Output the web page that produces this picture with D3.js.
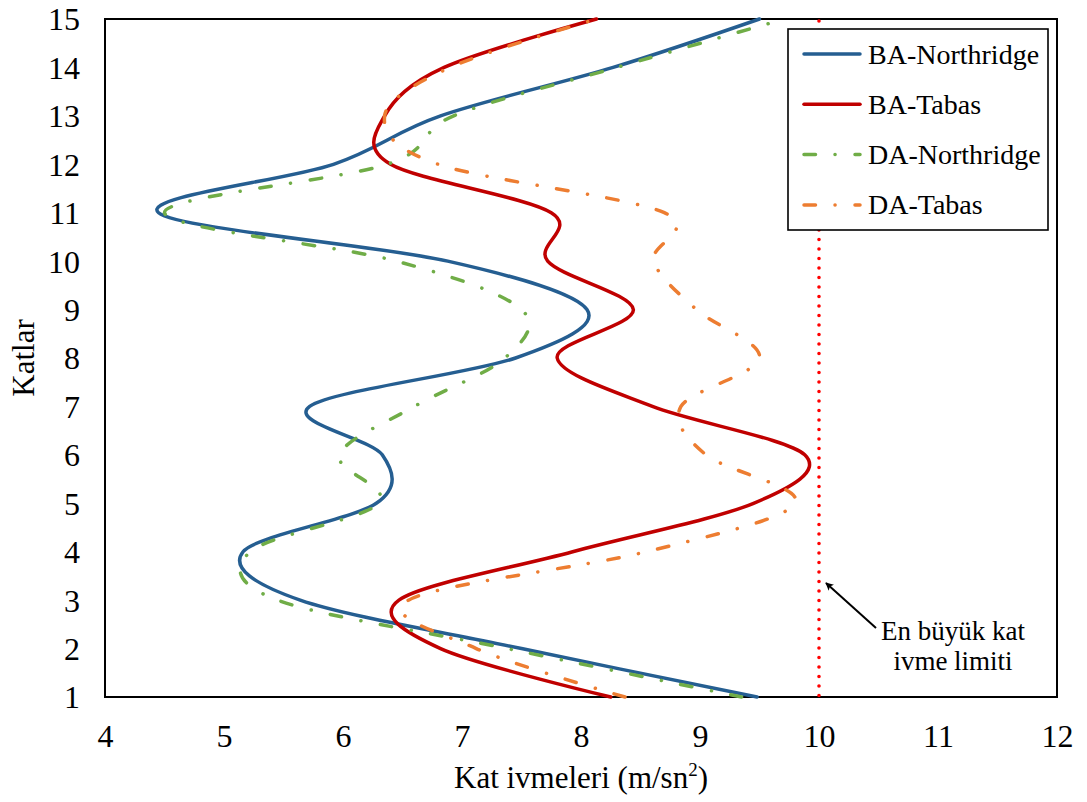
<!DOCTYPE html>
<html>
<head>
<meta charset="utf-8">
<script src="https://cdn.jsdelivr.net/npm/d3@7"></script>
<style>
  html, body { margin: 0; padding: 0; background: #fff; }
  svg { display: block; font-family: "Liberation Serif", "Times New Roman", serif; }
</style>
</head>
<body>
<svg id="chart" width="1087" height="802"></svg>
<script>
// ---- data ----
const floors = [1, 2, 3, 4, 5, 6, 7, 8, 9, 10, 11, 12, 13, 14, 15];
const baNorthridge = [9.48, 7.5, 5.64, 5.16, 6.28, 6.33, 5.72, 7.45, 8.05, 6.88, 4.45, 5.92, 6.82, 8.27, 9.5];
const baTabas      = [8.25, 6.82, 6.47, 7.93, 9.45, 9.88, 8.6, 7.8, 8.44, 7.72, 7.75, 6.4, 6.35, 6.85, 8.13];
const daNorthridge = [9.35, 7.38, 5.45, 5.22, 6.3, 5.97, 6.6, 7.36, 7.5, 6.45, 4.5, 6.37, 6.93, 8.3, 9.71];
const daTabas      = [8.37, 7.12, 6.55, 8.55, 9.8, 9.05, 8.84, 9.5, 8.97, 8.61, 8.7, 6.8, 6.35, 6.9, 8.13];
const seriesNames = ["BA-Northridge", "BA-Tabas", "DA-Northridge", "DA-Tabas"];
const xTicks = [4, 5, 6, 7, 8, 9, 10, 11, 12];
const yTicks = floors;
const limitValue = 10;
const annotationLines = ["En büyük kat", "ivme limiti"];
const xTitle = "Kat ivmeleri (m/sn";
const yTitle = "Katlar";

// ---- layout ----
const svg = d3.select("#chart");
const L = 105, R = 1057, T = 19, B = 697;
const x = d3.scaleLinear().domain([4, 12]).range([L, R]);
const y = d3.scaleLinear().domain([1, 15]).range([B, T]);

const dashDot = "11.5,19.5,0.1,19.9";
const styles = [
  { color: "#255e91", dash: null },
  { color: "#c00000", dash: null },
  { color: "#70ad47", dash: dashDot },
  { color: "#ed7d31", dash: dashDot }
];
const values = [baNorthridge, baTabas, daNorthridge, daTabas];

// frame
svg.append("rect").attr("x", L).attr("y", T).attr("width", R - L).attr("height", B - T)
  .attr("fill", "#fff").attr("stroke", "#000").attr("stroke-width", 2);

// axes (labels only)
const xAxis = d3.axisBottom(x).tickValues(xTicks).tickSize(0).tickPadding(0).tickFormat(d3.format("d"));
const gx = svg.append("g").attr("transform", `translate(0,${B})`).call(xAxis);
gx.select(".domain").remove();
gx.selectAll("text").attr("y", 50).attr("dy", null).attr("font-size", 32)
  .attr("font-family", "Liberation Serif").attr("fill", "#000");

const yAxis = d3.axisLeft(y).tickValues(yTicks).tickSize(0).tickPadding(0).tickFormat(d3.format("d"));
const gy = svg.append("g").attr("transform", `translate(${L},0)`).call(yAxis);
gy.select(".domain").remove();
gy.selectAll("text").attr("x", -25).attr("dy", "0.34em").attr("font-size", 32)
  .attr("font-family", "Liberation Serif").attr("fill", "#000");

// axis titles
const xt = svg.append("text").attr("x", (L + R) / 2).attr("y", 788).attr("text-anchor", "middle")
  .attr("font-size", 31).attr("fill", "#000").text(xTitle);
xt.append("tspan").attr("font-size", 19).attr("dy", -12).text("2");
xt.append("tspan").attr("dy", 12).text(")");

svg.append("text").attr("transform", `translate(34,${(T + B) / 2}) rotate(-90)`)
  .attr("text-anchor", "middle").attr("font-size", 31).attr("fill", "#000").text(yTitle);

// limit line
svg.append("line").attr("x1", x(limitValue)).attr("x2", x(limitValue))
  .attr("y1", y(15) + 2).attr("y2", y(1))
  .attr("stroke", "#ff0000").attr("stroke-width", 3.6)
  .attr("stroke-linecap", "round").attr("stroke-dasharray", "0,9.5");

// series lines
const line = d3.line().curve(d3.curveCardinal.tension(0))
  .x(d => x(d.v)).y(d => y(d.f));
values.forEach((vals, i) => {
  const pts = floors.map((f, k) => ({ f: f, v: vals[k] }));
  const p = svg.append("path").datum(pts).attr("d", line)
    .attr("fill", "none").attr("stroke", styles[i].color)
    .attr("stroke-width", 3.5).attr("stroke-linecap", "round").attr("stroke-linejoin", "round");
  if (styles[i].dash) p.attr("stroke-dasharray", styles[i].dash);
});

// annotation arrow
const defs = svg.append("defs");
defs.append("marker").attr("id", "arrow").attr("viewBox", "0 0 10 10")
  .attr("refX", 9).attr("refY", 5).attr("markerWidth", 8).attr("markerHeight", 8)
  .attr("markerUnits", "userSpaceOnUse").attr("orient", "auto")
  .append("path").attr("d", "M0,0 L10,5 L0,10 L2.5,5 Z").attr("fill", "#000");
// arrow geometry: from text toward limit line
const arrowTipX = x(limitValue) + 7, arrowTipY = 583;
svg.append("line").attr("x1", 876).attr("y1", 628).attr("x2", arrowTipX).attr("y2", arrowTipY)
  .attr("stroke", "#000").attr("stroke-width", 2).attr("marker-end", "url(#arrow)");
const ann = svg.append("text").attr("text-anchor", "middle").attr("font-size", 27).attr("fill", "#000");
annotationLines.forEach((t, i) => {
  ann.append("tspan").attr("x", 953).attr("y", 640 + i * 30).text(t);
});

// legend
const lg = svg.append("g");
lg.append("rect").attr("x", 788).attr("y", 29).attr("width", 260).attr("height", 201)
  .attr("fill", "#fff").attr("stroke", "#000").attr("stroke-width", 1.6);
seriesNames.forEach((name, i) => {
  const ly = 54 + i * 50.3;
  const l = lg.append("line").attr("x1", 804).attr("x2", 860).attr("y1", ly).attr("y2", ly)
    .attr("stroke", styles[i].color).attr("stroke-width", 3.5).attr("stroke-linecap", "round");
  if (styles[i].dash) l.attr("stroke-dasharray", styles[i].dash);
  lg.append("text").attr("x", 868).attr("y", ly + 9.5).attr("font-size", 28).attr("fill", "#000").text(name);
});
</script>
</body>
</html>
